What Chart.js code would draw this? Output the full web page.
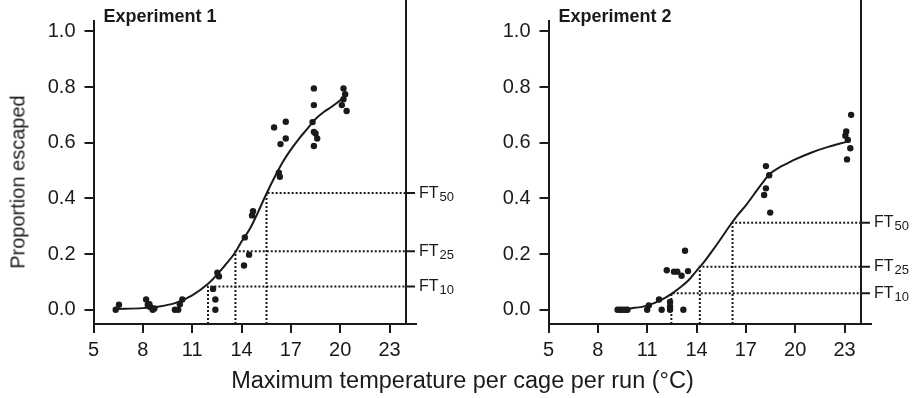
<!DOCTYPE html>
<html>
<head>
<meta charset="utf-8">
<script src="https://cdn.jsdelivr.net/npm/chart.js@4.4.1/dist/chart.umd.min.js"></script>
<style>
  body { margin: 0; background: #fff; width: 915px; height: 398px; overflow: hidden; position: relative; }
  canvas { position: absolute; top: 0; }
  #c1 { left: 0; }
  #c2 { left: 455px; }
  #xtitle { position: absolute; left: 0; width: 925px; top: 367px; text-align: center;
            font: 23.5px "Liberation Sans", Arial, sans-serif; color: #1a1a1a; }
  #ytitle { position: absolute; left: 18px; top: 182px; white-space: nowrap;
            transform: translate(-50%, -50%) rotate(-90deg);
            font: 20px "Liberation Sans", Arial, sans-serif; color: #1a1a1a; }
</style>
</head>
<body>
<canvas id="c1" width="455" height="398"></canvas>
<canvas id="c2" width="460" height="398"></canvas>
<div id="xtitle">Maximum temperature per cage per run (°C)</div>
<div id="ytitle">Proportion escaped</div>
<script>
// tick labels
const xTicks = [5, 8, 11, 14, 17, 20, 23];
const yTicks = [0, 0.2, 0.4, 0.6, 0.8, 1.0];
const ftNames = ['10', '25', '50'];

// Experiment 1 observations
const exp1Temp = [6.35, 6.55, 8.2, 8.3, 8.45, 8.6, 8.4, 8.7, 9.95, 10.15, 10.25, 10.4,
  12.27, 12.41, 12.41, 12.53, 12.63, 14.15, 14.46, 14.2, 14.64, 14.7,
  15.98, 16.37, 16.27, 16.33, 16.69, 16.69,
  18.4, 18.4, 18.32, 18.4, 18.5, 18.6, 18.4,
  20.2, 20.3, 20.1, 20.2, 20.39];
const exp1Prop = [0.0, 0.018, 0.037, 0.018, 0.01, 0.0, 0.02, 0.005, 0.0, 0.0, 0.02, 0.037,
  0.075, 0.037, 0.0, 0.133, 0.12, 0.159, 0.198, 0.26, 0.339, 0.354,
  0.655, 0.595, 0.492, 0.478, 0.675, 0.615,
  0.795, 0.735, 0.674, 0.639, 0.633, 0.615, 0.588,
  0.795, 0.774, 0.735, 0.756, 0.714];
// fitted curve
const exp1CurveX = [6.4, 8, 9, 10, 11, 12, 13, 13.6, 14, 14.5, 15, 15.5, 16, 16.5, 17, 17.5, 18, 18.5, 19, 19.5, 20, 20.3];
const exp1CurveY = [0.003, 0.006, 0.012, 0.025, 0.052, 0.095, 0.16, 0.205, 0.245, 0.29, 0.35, 0.415, 0.475, 0.53, 0.575, 0.615, 0.65, 0.685, 0.71, 0.73, 0.752, 0.765];
const exp1FtX = [11.96, 13.63, 15.52];
const exp1FtY = [0.084, 0.21, 0.419];

// Experiment 2 observations
const exp2Temp = [9.2, 9.35, 9.5, 9.65, 9.8, 11.0, 11.1, 11.72, 11.88, 12.39, 12.39, 12.39, 13.2,
  12.19, 12.63, 12.83, 13.09, 13.48, 13.3,
  18.22, 18.42, 18.22, 18.11, 18.48,
  23.4, 23.1, 23.05, 23.2, 23.35, 23.15];
const exp2Prop = [0, 0, 0, 0, 0, 0, 0.016, 0.037, 0, 0, 0.012, 0.028, 0,
  0.142, 0.137, 0.137, 0.122, 0.139, 0.212,
  0.516, 0.483, 0.436, 0.412, 0.349,
  0.70, 0.64, 0.625, 0.61, 0.58, 0.54];
const exp2CurveX = [9.3, 10, 11, 12, 12.5, 13, 13.5, 14, 14.5, 15, 15.5, 16, 16.5, 17, 17.5, 18, 18.5, 19, 19.5, 20, 21, 22, 23.1];
const exp2CurveY = [0.0, 0.005, 0.015, 0.04, 0.058, 0.08, 0.105, 0.14, 0.175, 0.215, 0.257, 0.3, 0.34, 0.375, 0.415, 0.455, 0.49, 0.51, 0.525, 0.54, 0.565, 0.585, 0.603];
const exp2FtX = [12.47, 14.2, 16.19];
const exp2FtY = [0.059, 0.155, 0.313];

const X_MIN = 5, X_MAX = 24, Y_MIN = -0.051, Y_MAX = 1.037;
const FONT = '"Liberation Sans", Arial, sans-serif';
const INK = '#1a1a1a';

function pts(xs, ys) {
  return xs.map((x, i) => ({ x: x, y: ys[i] }));
}

function ftSets(ftX, ftY) {
  return ftX.map((x, i) => ({
    type: 'line',
    data: [{ x: x, y: Y_MIN }, { x: x, y: ftY[i] }, { x: X_MAX, y: ftY[i] }],
    borderColor: INK,
    borderWidth: 2,
    borderDash: [2, 2],
    pointRadius: 0,
    fill: false
  }));
}

// right frame line, FT ticks + labels, x axis overhang, panel title
const panelExtras = {
  id: 'panelExtras',
  afterDraw(chart) {
    const ctx = chart.ctx;
    const xs = chart.scales.x, ys = chart.scales.y;
    const ftY = chart.options.plugins.panelExtras.ftY;
    const title = chart.options.plugins.panelExtras.title;
    const rx = xs.getPixelForValue(X_MAX);
    ctx.save();
    ctx.strokeStyle = INK;
    ctx.lineWidth = 2;
    ctx.beginPath();
    ctx.moveTo(rx, 0);
    ctx.lineTo(rx, chart.chartArea.bottom);
    ctx.moveTo(xs.left, chart.chartArea.bottom);
    ctx.lineTo(rx + 11, chart.chartArea.bottom);
    ftY.forEach(v => {
      const py = ys.getPixelForValue(v);
      ctx.moveTo(rx, py);
      ctx.lineTo(rx + 9, py);
    });
    ctx.stroke();
    ctx.fillStyle = INK;
    ctx.textBaseline = 'middle';
    ftY.forEach((v, i) => {
      const py = ys.getPixelForValue(v);
      ctx.font = '16px ' + FONT;
      ctx.fillText('FT', rx + 13, py);
      const w = ctx.measureText('FT').width;
      ctx.font = '13px ' + FONT;
      ctx.fillText(ftNames[i], rx + 13 + w + 1, py + 4);
    });
    ctx.font = 'bold 18px ' + FONT;
    ctx.textBaseline = 'middle';
    ctx.fillText(title, xs.left + 10, 17);
    ctx.restore();
  }
};

function makeChart(id, title, temp, prop, cx, cy, ftX, ftY) {
  return new Chart(document.getElementById(id), {
    type: 'scatter',
    data: {
      datasets: [
        {
          data: pts(temp, prop),
          backgroundColor: INK,
          borderColor: INK,
          pointRadius: 3.2,
          pointBorderWidth: 0
        },
        {
          type: 'line',
          data: pts(cx, cy),
          borderColor: INK,
          borderWidth: 2,
          pointRadius: 0,
          cubicInterpolationMode: 'monotone',
          fill: false
        }
      ].concat(ftSets(ftX, ftY))
    },
    options: {
      responsive: false,
      animation: false,
      layout: { padding: { top: 15, right: id === 'c1' ? 49 : 54, left: 0, bottom: 0 } },
      plugins: {
        legend: { display: false },
        tooltip: { enabled: false },
        panelExtras: { ftY: ftY, title: title }
      },
      scales: {
        x: {
          type: 'linear',
          min: X_MIN,
          max: X_MAX,
          afterBuildTicks: s => { s.ticks = xTicks.map(v => ({ value: v })); },
          afterFit: s => { s.height = 74; },
          grid: { display: true, drawOnChartArea: false, drawTicks: true, tickLength: 9, color: INK, lineWidth: 2 },
          border: { display: true, color: INK, width: 2 },
          ticks: { color: INK, font: { family: FONT, size: 20 }, padding: 5, maxRotation: 0 }
        },
        y: {
          min: Y_MIN,
          max: Y_MAX,
          afterBuildTicks: s => { s.ticks = yTicks.map(v => ({ value: v })); },
          afterFit: s => { s.width = 93.5; },
          grid: { display: true, drawOnChartArea: false, drawTicks: true, tickLength: 9, color: INK, lineWidth: 2 },
          border: { display: true, color: INK, width: 2 },
          ticks: { color: INK, font: { family: FONT, size: 20 }, padding: 9, callback: v => v.toFixed(1) }
        }
      }
    },
    plugins: [panelExtras]
  });
}

makeChart('c1', 'Experiment 1', exp1Temp, exp1Prop, exp1CurveX, exp1CurveY, exp1FtX, exp1FtY);
makeChart('c2', 'Experiment 2', exp2Temp, exp2Prop, exp2CurveX, exp2CurveY, exp2FtX, exp2FtY);
</script>
</body>
</html>
